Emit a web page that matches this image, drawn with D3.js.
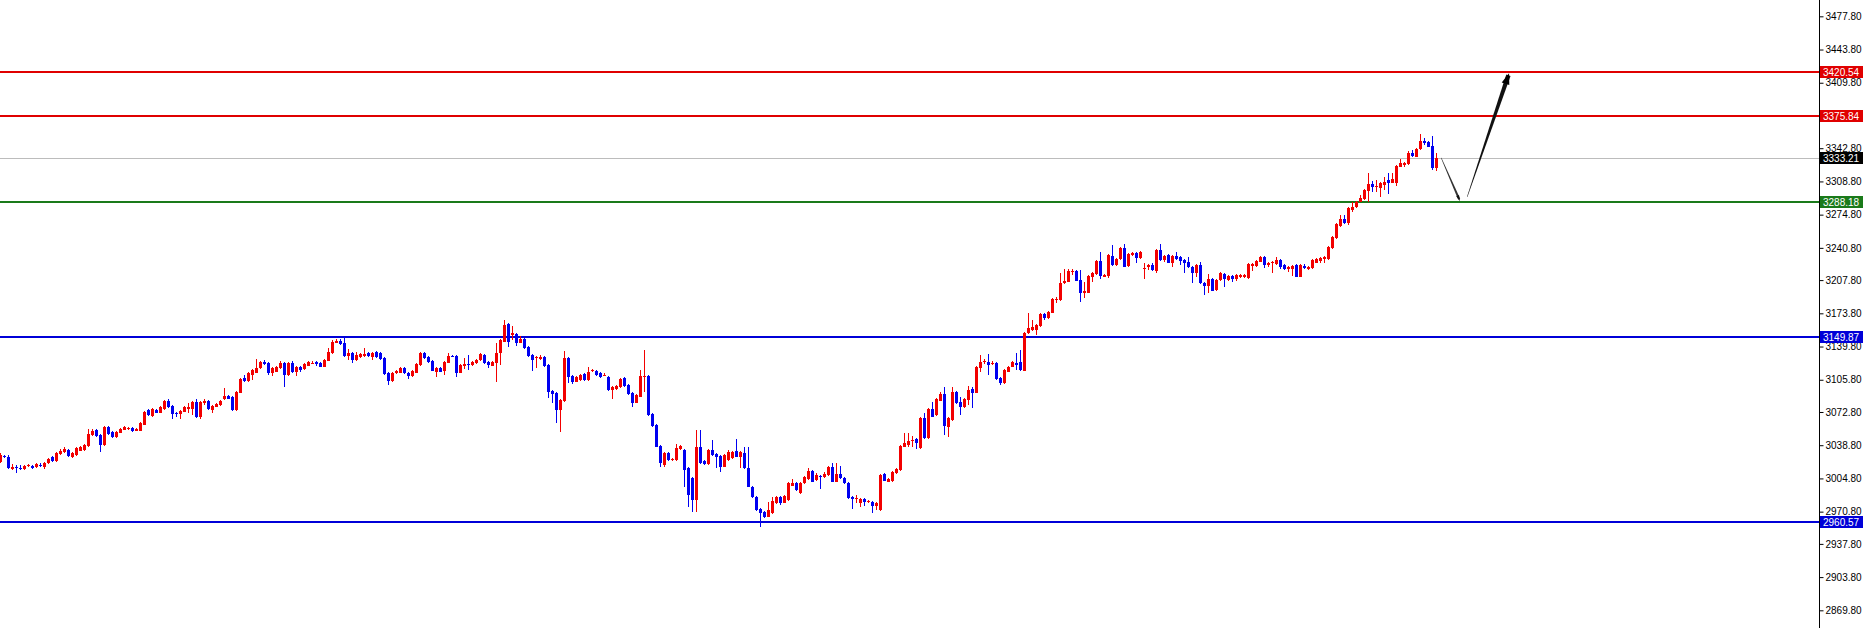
<!DOCTYPE html>
<html><head><meta charset="utf-8">
<script src="https://cdn.jsdelivr.net/npm/d3@7"></script>
<style>html,body{margin:0;padding:0;background:#fff;overflow:hidden}</style>
</head><body><svg id="c" width="1863" height="628"></svg>
<script>
const opens=[3022.0,3027.5,3027.1,3014.1,3016.9,3015.8,3014.1,3017.9,3017.6,3016.2,3018.8,3016.9,3020.3,3027.1,3022.3,3029.8,3031.9,3033.9,3026.4,3028.8,3033.3,3033.9,3038.0,3049.3,3054.4,3049.6,3039.0,3057.1,3052.4,3046.9,3051.7,3054.4,3056.1,3056.1,3053.7,3053.7,3059.9,3074.9,3068.7,3074.9,3072.1,3075.9,3084.4,3079.0,3072.1,3070.8,3073.2,3075.6,3075.6,3083.4,3067.4,3082.4,3084.1,3074.9,3078.3,3079.6,3085.8,3089.2,3087.8,3074.9,3092.6,3107.3,3104.9,3110.7,3113.1,3117.5,3124.3,3122.6,3112.4,3114.1,3117.5,3123.3,3110.7,3123.3,3114.1,3118.5,3116.5,3120.2,3123.2,3123.6,3122.6,3119.2,3125.3,3133.5,3143.8,3145.8,3143.8,3130.1,3133.5,3126.0,3129.4,3130.4,3133.5,3128.7,3134.5,3133.5,3127.7,3113.0,3104.5,3112.4,3113.0,3118.2,3113.0,3110.0,3113.0,3120.9,3132.8,3128.7,3125.3,3114.1,3117.5,3115.1,3123.3,3130.1,3130.1,3113.0,3120.2,3121.9,3120.9,3122.6,3126.0,3131.1,3124.3,3120.2,3122.6,3132.8,3144.8,3162.9,3151.6,3152.6,3143.8,3147.2,3139.6,3131.1,3127.7,3126.7,3128.7,3120.9,3094.6,3091.9,3074.8,3084.4,3128.4,3109.6,3103.8,3105.5,3111.7,3105.5,3115.1,3115.1,3113.0,3110.6,3108.9,3095.3,3096.0,3098.0,3107.2,3100.4,3092.6,3082.3,3088.5,3108.3,3109.6,3070.7,3059.5,3038.0,3018.5,3031.1,3024.3,3023.6,3034.6,3033.9,3015.1,3004.9,2982.7,3037.3,3022.9,3019.5,3033.9,3029.8,3027.7,3016.8,3023.6,3025.4,3033.2,3027.1,3030.5,3015.1,2996.4,2986.1,2973.2,2970.8,2965.7,2969.1,2979.3,2986.1,2980.0,2982.7,2997.5,2999.8,2989.5,2999.8,3003.9,3012.7,3003.2,3007.3,3005.9,3008.3,3016.8,3001.5,3009.3,3004.9,3000.5,2985.4,2984.2,2980.0,2983.4,2981.1,2981.0,2976.6,2972.5,3009.3,3001.5,3001.8,3010.0,3013.4,3037.3,3039.0,3044.1,3044.8,3035.6,3066.3,3045.8,3075.6,3069.7,3084.4,3091.2,3057.7,3064.6,3093.6,3083.4,3077.6,3085.1,3096.0,3092.6,3117.5,3124.3,3124.3,3122.4,3122.6,3107.3,3102.8,3114.1,3119.2,3123.3,3124.3,3115.1,3153.3,3156.7,3156.7,3160.8,3173.1,3168.6,3174.5,3188.0,3187.4,3204.5,3206.2,3217.4,3217.5,3207.9,3194.2,3194.9,3211.3,3214.0,3227.7,3211.3,3212.0,3232.5,3223.2,3229.1,3240.3,3222.2,3233.5,3235.2,3230.1,3218.8,3221.5,3223.2,3217.4,3238.6,3228.4,3233.5,3224.9,3232.4,3231.1,3228.4,3226.7,3221.5,3214.7,3223.2,3205.2,3201.7,3208.6,3197.7,3207.9,3214.0,3207.9,3212.0,3208.6,3210.6,3210.6,3209.6,3222.2,3222.2,3226.6,3231.8,3223.2,3224.9,3224.2,3228.4,3223.2,3218.8,3218.8,3223.2,3211.3,3222.2,3218.8,3219.8,3225.6,3227.7,3229.0,3229.0,3240.3,3250.5,3263.2,3270.0,3265.9,3279.5,3282.3,3288.1,3290.4,3299.3,3306.2,3302.7,3301.7,3305.1,3310.2,3307.5,3307.5,3323.9,3325.6,3326.6,3338.2,3334.1,3341.6,3350.5,3349.1,3345.1,3322.2];
const highs=[3030.5,3029.0,3028.5,3019.6,3018.5,3018.6,3019.0,3020.0,3018.6,3020.5,3020.3,3022.0,3025.5,3027.8,3032.0,3034.5,3037.3,3035.0,3032.2,3036.5,3037.8,3040.5,3055.1,3055.5,3055.8,3050.5,3058.5,3058.5,3053.5,3053.5,3056.8,3058.5,3057.8,3057.0,3056.5,3063.0,3074.0,3076.0,3076.5,3076.0,3078.5,3085.5,3086.0,3080.0,3073.0,3075.0,3078.5,3081.7,3084.5,3085.8,3084.5,3085.8,3085.0,3080.0,3082.0,3085.5,3097.0,3090.0,3089.0,3094.5,3107.5,3110.7,3113.5,3117.0,3126.7,3125.5,3126.0,3123.5,3118.5,3119.5,3124.5,3124.3,3124.3,3125.3,3120.2,3119.9,3122.6,3124.6,3125.0,3125.3,3123.5,3127.0,3137.9,3146.0,3147.0,3147.0,3149.2,3136.9,3134.5,3134.5,3133.2,3137.9,3134.5,3134.5,3135.5,3134.5,3128.7,3114.0,3114.0,3116.0,3119.2,3119.2,3114.0,3116.0,3123.0,3134.5,3134.5,3129.7,3126.3,3118.5,3119.2,3125.3,3132.8,3131.1,3131.0,3121.9,3127.7,3131.1,3125.3,3127.0,3133.5,3132.0,3125.3,3125.3,3143.1,3147.5,3167.0,3163.9,3160.8,3153.5,3150.6,3148.2,3140.6,3132.0,3130.1,3130.8,3129.7,3121.9,3095.6,3092.9,3086.1,3135.6,3129.4,3110.6,3110.0,3111.6,3112.7,3119.2,3117.0,3116.0,3114.0,3112.4,3110.0,3099.0,3100.4,3107.2,3108.2,3101.4,3093.6,3091.2,3115.8,3136.2,3110.6,3071.7,3060.5,3039.0,3031.5,3032.1,3026.0,3040.0,3039.0,3034.9,3016.1,3005.9,3054.4,3054.4,3023.9,3034.9,3044.1,3030.8,3028.7,3029.8,3033.9,3033.2,3044.8,3033.2,3037.3,3037.3,2997.4,2987.1,2974.2,2971.8,2981.0,2985.5,2987.1,2987.1,2988.0,3001.5,3003.9,3000.8,3001.5,3007.6,3015.1,3013.7,3010.0,3008.3,3011.0,3017.8,3020.2,3021.0,3017.5,3005.9,3001.5,2986.4,2987.7,2984.4,2984.4,2983.0,2982.0,2980.3,3009.3,3010.3,3004.9,3012.7,3015.1,3039.0,3051.0,3050.9,3048.2,3046.0,3067.3,3071.5,3076.6,3083.4,3086.8,3093.6,3098.7,3067.3,3098.0,3094.6,3088.5,3086.8,3099.5,3098.7,3120.2,3131.1,3127.0,3132.2,3125.0,3123.6,3108.3,3116.8,3120.2,3125.3,3132.8,3136.2,3154.3,3173.8,3167.0,3162.8,3174.1,3174.1,3176.5,3189.1,3190.8,3215.4,3218.8,3218.8,3218.8,3218.5,3218.1,3206.2,3213.0,3216.4,3228.7,3236.9,3214.0,3234.5,3243.7,3230.1,3242.0,3244.7,3235.5,3236.9,3236.2,3237.9,3224.9,3224.2,3224.9,3239.6,3244.7,3233.4,3234.5,3233.4,3236.9,3232.1,3229.4,3231.1,3222.5,3224.2,3226.6,3206.2,3214.0,3209.6,3208.9,3216.4,3215.0,3213.0,3213.0,3214.0,3214.0,3214.0,3225.2,3225.2,3228.7,3232.8,3232.8,3226.6,3227.6,3231.1,3229.4,3224.2,3222.5,3223.2,3224.2,3224.2,3224.2,3222.5,3229.4,3230.0,3231.8,3232.8,3243.0,3252.6,3266.2,3274.4,3274.4,3282.2,3288.1,3289.1,3294.9,3301.0,3317.1,3309.6,3310.3,3307.8,3313.7,3317.1,3317.8,3325.6,3331.4,3329.0,3340.3,3341.0,3342.6,3357.3,3352.9,3350.1,3355.3,3337.5];
const lows=[3020.5,3025.2,3014.0,3013.5,3010.7,3013.5,3013.0,3016.5,3014.1,3015.2,3016.5,3014.8,3019.6,3021.5,3021.5,3029.0,3031.0,3026.5,3025.4,3028.0,3032.5,3033.0,3037.2,3048.0,3047.5,3032.2,3038.0,3049.5,3046.0,3046.0,3051.0,3054.0,3054.8,3052.5,3053.0,3053.0,3059.0,3069.0,3068.0,3071.5,3071.5,3075.0,3077.0,3065.3,3068.1,3066.0,3072.5,3071.5,3069.8,3067.0,3066.0,3080.0,3075.0,3072.1,3077.5,3079.0,3085.0,3085.8,3074.0,3074.0,3092.0,3103.8,3104.0,3105.6,3112.5,3117.0,3121.0,3110.7,3109.7,3113.5,3117.0,3098.8,3109.6,3113.0,3109.6,3114.1,3115.8,3119.5,3121.8,3119.9,3118.5,3118.5,3124.5,3132.5,3143.0,3141.5,3129.0,3126.0,3122.6,3125.0,3128.5,3129.5,3129.3,3126.0,3128.5,3125.8,3110.7,3100.4,3103.5,3111.7,3112.4,3111.7,3106.2,3109.0,3112.4,3120.2,3127.0,3123.2,3114.4,3108.3,3113.4,3110.6,3122.6,3128.7,3109.0,3112.4,3116.5,3115.8,3120.2,3121.9,3125.3,3121.9,3117.5,3119.5,3103.8,3120.9,3144.0,3139.6,3146.5,3140.3,3143.0,3137.2,3129.4,3115.1,3117.5,3126.0,3119.2,3086.8,3082.3,3061.2,3052.6,3083.4,3102.8,3101.4,3103.0,3104.8,3104.8,3104.8,3113.5,3110.0,3107.5,3109.2,3094.5,3085.8,3095.3,3097.3,3098.7,3090.5,3077.6,3081.6,3087.8,3093.6,3069.0,3057.7,3036.6,3016.1,3016.1,3022.9,3023.0,3022.9,3033.9,2995.7,2975.9,2970.8,2970.8,3019.5,3018.8,3018.8,3028.1,3015.1,3011.7,3016.1,3022.9,3024.7,3026.4,3015.1,3014.4,2995.7,2984.7,2971.8,2955.4,2964.3,2965.0,2968.4,2978.6,2977.6,2979.3,2982.0,2997.0,2992.3,2988.8,2999.1,3003.2,3000.8,3002.5,2993.6,3005.2,3007.6,3000.8,3000.8,3004.2,2999.1,2983.4,2973.2,2979.9,2976.0,2976.6,2979.5,2969.1,2972.5,2971.8,3001.8,3000.8,3001.1,3009.3,3012.7,3036.6,3037.3,3037.3,3035.0,3034.6,3045.1,3045.1,3067.3,3069.0,3083.7,3049.2,3047.5,3063.9,3081.0,3069.7,3076.9,3080.0,3076.6,3091.9,3114.1,3121.5,3110.7,3120.5,3105.5,3100.5,3101.5,3113.4,3118.5,3115.8,3115.1,3114.4,3152.6,3156.0,3151.6,3160.1,3166.9,3167.9,3173.8,3184.7,3186.7,3203.8,3205.5,3213.0,3206.5,3185.7,3189.1,3194.2,3206.2,3213.3,3208.6,3210.6,3209.6,3222.5,3222.5,3228.4,3220.8,3221.5,3232.8,3225.6,3229.4,3208.6,3218.1,3217.4,3215.4,3227.7,3226.6,3224.9,3220.9,3228.3,3223.2,3215.4,3220.2,3205.2,3211.3,3203.8,3192.5,3194.2,3196.3,3197.0,3207.2,3200.4,3207.2,3206.2,3207.2,3209.9,3210.0,3208.6,3217.4,3221.5,3225.9,3219.8,3221.5,3215.4,3223.5,3218.8,3218.1,3216.4,3212.0,3210.6,3210.6,3219.1,3218.1,3219.1,3224.9,3225.6,3225.6,3228.3,3239.6,3249.8,3262.5,3265.2,3264.2,3277.8,3281.6,3287.4,3289.7,3288.1,3298.3,3298.3,3292.5,3300.0,3295.9,3306.8,3304.1,3323.2,3323.9,3325.9,3334.1,3333.4,3340.9,3346.1,3343.7,3320.5,3319.8];
const closes=[3028.8,3026.8,3015.2,3016.9,3015.2,3014.5,3017.9,3018.2,3015.2,3019.3,3018.2,3021.0,3024.4,3022.3,3031.2,3033.3,3034.6,3027.8,3031.2,3035.6,3036.7,3039.4,3050.3,3053.7,3048.3,3039.0,3057.1,3050.3,3046.9,3052.4,3055.8,3057.1,3056.3,3053.7,3055.1,3061.9,3072.8,3069.8,3075.6,3072.1,3077.6,3084.4,3077.6,3070.8,3070.8,3074.2,3077.6,3077.6,3083.4,3068.1,3083.4,3083.7,3075.6,3079.0,3081.0,3084.4,3089.2,3086.5,3074.9,3093.6,3106.3,3104.6,3112.4,3115.8,3118.2,3124.3,3122.0,3113.1,3117.5,3118.5,3123.3,3110.7,3123.3,3114.1,3119.2,3115.8,3121.6,3123.6,3123.4,3121.6,3119.2,3126.0,3134.5,3144.8,3145.8,3142.4,3130.1,3133.5,3126.0,3131.1,3132.2,3132.2,3130.1,3133.5,3129.4,3126.7,3111.7,3104.5,3113.0,3115.1,3118.2,3112.4,3109.6,3115.1,3121.9,3132.8,3127.7,3124.0,3115.1,3117.5,3114.1,3124.3,3130.1,3129.4,3113.0,3120.9,3121.9,3120.9,3124.3,3126.0,3132.2,3122.6,3120.9,3124.3,3132.8,3146.5,3161.8,3144.8,3153.3,3143.8,3147.2,3137.9,3130.1,3126.0,3128.7,3128.7,3119.9,3093.6,3091.2,3074.8,3085.1,3128.4,3108.9,3103.8,3108.9,3110.6,3105.5,3114.1,3115.4,3110.6,3108.3,3110.9,3095.3,3098.0,3099.4,3106.2,3099.4,3091.2,3081.7,3090.2,3109.6,3109.6,3069.7,3058.4,3037.3,3020.2,3030.5,3023.6,3024.6,3035.6,3038.0,3013.4,2987.8,2982.7,3037.3,3020.2,3019.5,3033.9,3028.8,3027.1,3016.8,3028.8,3032.2,3032.2,3027.1,3032.2,3015.1,2996.4,2985.4,2972.5,2969.1,2965.0,2972.5,2981.7,2986.1,2979.9,2987.0,2999.8,3000.5,2993.0,3000.5,3006.6,3012.7,3001.5,3008.3,3005.9,3009.3,3016.8,3001.5,3009.3,3004.9,2999.8,2984.4,2983.4,2984.4,2983.4,2981.0,2981.3,2976.6,2979.3,3008.3,3002.5,3003.9,3011.7,3014.1,3038.0,3040.7,3043.4,3044.4,3040.7,3066.3,3045.8,3075.6,3068.0,3085.8,3091.2,3058.5,3066.3,3093.6,3081.7,3078.3,3085.8,3095.3,3092.6,3119.2,3124.3,3124.6,3120.9,3122.6,3106.2,3102.8,3115.8,3119.2,3124.3,3120.9,3115.8,3153.3,3158.4,3160.1,3161.8,3173.1,3168.6,3175.5,3188.1,3188.3,3204.5,3207.2,3217.5,3217.6,3207.2,3194.2,3197.0,3212.0,3215.4,3227.7,3212.0,3213.0,3233.5,3223.2,3229.1,3240.3,3221.5,3234.5,3235.9,3230.1,3236.9,3219.8,3223.2,3218.1,3238.6,3228.4,3232.4,3225.6,3232.4,3229.0,3227.7,3225.0,3220.9,3214.7,3223.2,3204.5,3201.7,3208.6,3197.0,3207.9,3214.7,3208.6,3212.0,3208.6,3213.0,3213.0,3213.0,3224.2,3224.2,3227.7,3231.8,3223.2,3225.6,3226.6,3228.4,3221.5,3218.8,3221.5,3222.2,3211.3,3223.2,3219.8,3221.5,3228.4,3229.0,3230.1,3231.8,3242.0,3251.6,3265.2,3270.0,3265.9,3281.2,3282.3,3288.1,3291.5,3300.0,3306.2,3303.4,3304.1,3306.8,3308.5,3306.8,3310.9,3324.6,3327.3,3328.0,3338.2,3334.8,3341.6,3350.5,3347.8,3344.4,3322.2,3333.21];

const tickValues=[3477.80,3443.80,3409.80,3375.80,3342.80,3308.80,3274.80,3240.80,3207.80,3173.80,3139.80,3105.80,3072.80,3038.80,3004.80,2970.80,2937.80,2903.80,2869.80];
const levelValues=[3420.54,3375.84,3288.18,3149.87,2960.57];
const currentPrice=3333.21;
const arrowIdx=[360.3,364.8,366.8,377.1];
const arrowPrice=[3333.0,3290.5,3293.0,3417.5];

// ---- styles / layout ----
const W=1863,H=628,AXIS_X=1819;
const UP='#f20000',DOWN='#0000f0';
const levelColors=['#e00000','#e00000','#1a7a1a','#0000d8','#0000d8'];
const FONT='Tahoma, "Liberation Sans", Arial, sans-serif';
const FSIZE='10px';

const svg=d3.select('#c');
svg.append('rect').attr('width',W).attr('height',H).attr('fill','#fff');

const y=d3.scaleLinear().domain([2851.7,3494.5]).range([H,0]);
const x=d3.scaleLinear().domain([0,359]).range([0,1436]);

// current price line
svg.append('line').attr('x1',0).attr('x2',AXIS_X).attr('y1',Math.round(y(currentPrice))+0.5).attr('y2',Math.round(y(currentPrice))+0.5)
  .attr('stroke','#bcbcbc').attr('stroke-width',1);

// level lines
svg.append('g').selectAll('line').data(levelValues).join('line')
  .attr('x1',0).attr('x2',AXIS_X)
  .attr('y1',d=>Math.round(y(d))).attr('y2',d=>Math.round(y(d)))
  .attr('stroke',(d,i)=>levelColors[i]).attr('stroke-width',2);

// candles
const data=opens.map((o,i)=>({i,o,h:highs[i],l:lows[i],c:closes[i]}));
const cg=svg.append('g').attr('shape-rendering','crispEdges');
cg.selectAll('rect.wick').data(data).join('rect').attr('class','wick')
  .attr('x',d=>Math.round(x(d.i))).attr('width',1)
  .attr('y',d=>Math.round(y(d.h))).attr('height',d=>Math.max(1,Math.round(y(d.l))-Math.round(y(d.h))))
  .attr('fill',d=>d.c>=d.o?UP:DOWN);
cg.selectAll('rect.body').data(data).join('rect').attr('class','body')
  .attr('x',d=>Math.round(x(d.i))-1).attr('width',3)
  .attr('y',d=>Math.round(y(Math.max(d.o,d.c))))
  .attr('height',d=>Math.max(1,Math.round(y(Math.min(d.o,d.c)))-Math.round(y(Math.max(d.o,d.c)))))
  .attr('fill',d=>d.c>=d.o?UP:DOWN);

// arrows (tapered strokes)
function taper(p0,p1,w0,w1){
  const dx=p1[0]-p0[0],dy=p1[1]-p0[1],L=Math.hypot(dx,dy),nx=-dy/L,ny=dx/L;
  return [[p0[0]+nx*w0/2,p0[1]+ny*w0/2],[p1[0]+nx*w1/2,p1[1]+ny*w1/2],[p1[0]-nx*w1/2,p1[1]-ny*w1/2],[p0[0]-nx*w0/2,p0[1]-ny*w0/2]];
}
function head(p0,p1,len,wid){
  const dx=p1[0]-p0[0],dy=p1[1]-p0[1],L=Math.hypot(dx,dy),ux=dx/L,uy=dy/L,nx=-uy,ny=ux;
  const b=[p1[0]-ux*len,p1[1]-uy*len];
  return [[p1[0]+ux*2,p1[1]+uy*2],[b[0]+nx*wid/2,b[1]+ny*wid/2],[b[0]-nx*wid/2,b[1]-ny*wid/2]];
}
const pts=arrowIdx.map((v,i)=>[x(v),y(arrowPrice[i])]);
const ag=svg.append('g');
ag.append('polygon').attr('points',taper(pts[0],pts[1],0.5,2.2).join(' ')).attr('fill','#333');
ag.append('polygon').attr('points',head(pts[0],pts[1],4,3).join(' ')).attr('fill','#111');
ag.append('polygon').attr('points',taper(pts[2],pts[3],0.4,4.5).join(' ')).attr('fill','#111');
ag.append('polygon').attr('points',head(pts[2],pts[3],9,8).join(' ')).attr('fill','#000');

// price axis
const axis=d3.axisRight(y).tickValues(tickValues).tickFormat(d3.format('.2f')).tickSize(4).tickSizeOuter(0).tickPadding(2);
const axg=svg.append('g').attr('transform',`translate(${AXIS_X+0.5},0)`).call(axis);
axg.select('.domain').attr('stroke','#000').attr('d',`M0,0V${H}`);
axg.selectAll('.tick line').attr('stroke','#000');
axg.selectAll('.tick text').attr('fill','#000').style('font-family',FONT).style('font-size',FSIZE);

// price labels
const labelVals=levelValues.concat([currentPrice]);
const labelBg=levelColors.concat(['#000000']);
const lg=svg.append('g');
labelVals.forEach((v,i)=>{
  const yy=Math.round(y(v));
  lg.append('rect').attr('x',AXIS_X+1).attr('y',yy-6).attr('width',W-AXIS_X-1).attr('height',12).attr('fill',labelBg[i]);
  lg.append('text').attr('x',AXIS_X+4).attr('y',yy+4).attr('fill','#fff')
    .style('font-family',FONT).style('font-size',FSIZE).text(v.toFixed(2));
});
</script></body></html>
